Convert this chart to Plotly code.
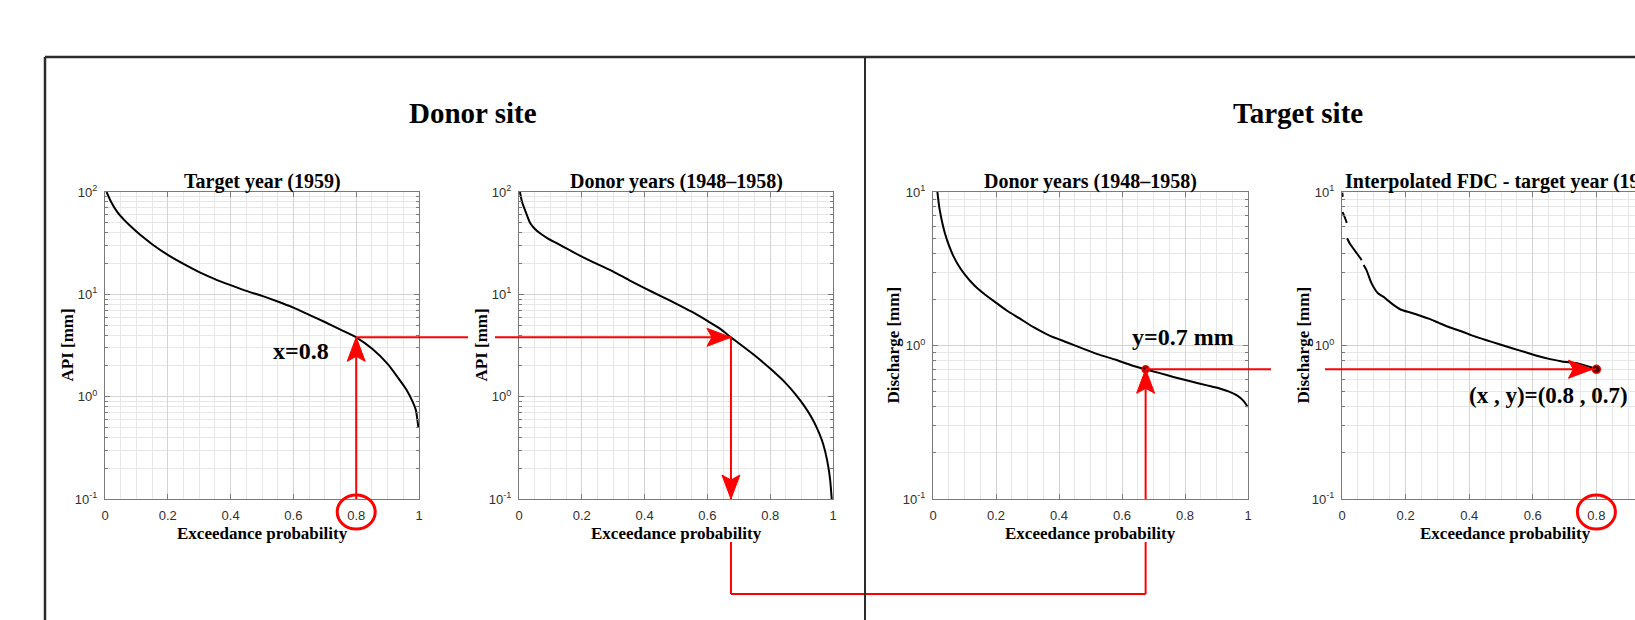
import math
import plotly.graph_objects as go

W, H = 1635, 620

# ---------------- data ----------------
target_api_prob = [0.005, 0.02, 0.04, 0.06, 0.08, 0.10, 0.125, 0.15, 0.2, 0.25, 0.3, 0.35,
                   0.4, 0.45, 0.5, 0.55, 0.6, 0.65, 0.7, 0.75, 0.8, 0.85, 0.9, 0.93,
                   0.96, 0.98, 0.99, 0.998]
target_api_mm = [100, 79.4, 63.1, 53.7, 46.8, 41.2, 35.5, 30.9, 24.3, 19.8, 16.5, 14.1,
                 12.3, 10.8, 9.66, 8.51, 7.41, 6.31, 5.37, 4.52, 3.8, 2.95, 2.09, 1.58,
                 1.17, 0.89, 0.74, 0.5]

donor_api_prob = [0.003, 0.01, 0.019, 0.035, 0.05, 0.067, 0.09, 0.12, 0.16, 0.2, 0.25, 0.3,
                  0.35, 0.4, 0.45, 0.5, 0.55, 0.6, 0.64, 0.675, 0.7, 0.75, 0.8, 0.85, 0.88,
                  0.91, 0.93, 0.95, 0.965, 0.975, 0.985, 0.991, 0.996]
donor_api_mm = [100, 79.4, 66.7, 50.1, 43.7, 39.5, 35.5, 31.6, 27.2, 23.4, 19.7, 16.7,
                13.8, 11.5, 9.66, 8.13, 6.76, 5.5, 4.62, 3.8, 3.33, 2.54, 1.88, 1.35, 1.06,
                0.80, 0.64, 0.485, 0.373, 0.292, 0.207, 0.153, 0.1]

donor_q_prob = [0.014, 0.018, 0.022, 0.03, 0.038, 0.05, 0.064, 0.08, 0.1, 0.13, 0.16, 0.2,
                0.234, 0.275, 0.318, 0.37, 0.424, 0.48, 0.53, 0.58, 0.625, 0.675, 0.72,
                0.763, 0.82, 0.87, 0.91, 0.94, 0.965, 0.985, 0.999]
donor_q_mm = [10, 8.51, 7.50, 6.24, 5.37, 4.52, 3.85, 3.35, 2.92, 2.48, 2.19, 1.90,
              1.69, 1.50, 1.32, 1.16, 1.05, 0.948, 0.869, 0.807, 0.75, 0.70, 0.661,
              0.624, 0.582, 0.55, 0.525, 0.501, 0.473, 0.437, 0.398]

interp_q_prob = [0.001, 0.002, None, 0.002, 0.008, 0.015, None, 0.016, 0.025, 0.035, 0.05, 0.062,
                 None, 0.068, 0.077, 0.085, 0.093, 0.113, 0.13, 0.145, 0.165, 0.186, 0.215,
                 0.244, 0.275, 0.306, 0.34, 0.379, 0.415, 0.452, 0.495, 0.535, 0.58, 0.619,
                 0.655, 0.692, 0.744, 0.78, 0.80]
interp_q_mm = [9.9, 9.3, None, 7.4, 6.9, 6.3, None, 5.0, 4.6, 4.3, 3.9, 3.6,
               None, 3.35, 3.1, 2.8, 2.54, 2.19, 2.08, 1.96, 1.82, 1.71, 1.64,
               1.57, 1.49, 1.40, 1.31, 1.23, 1.15, 1.086, 1.02, 0.96, 0.90, 0.85,
               0.815, 0.787, 0.762, 0.725, 0.70]

target_prob = 0.8      # exceedance probability of the target-year API value
target_api = 3.8       # API [mm] at that probability
donor_prob = 0.675     # same API value on the donor-years FDC
donor_q = 0.7          # discharge [mm] at donor_prob
axis_floor = 0.1       # bottom of the log axes

x_ticks = [0, 0.2, 0.4, 0.6, 0.8, 1]
x_ticktext = ["0", "0.2", "0.4", "0.6", "0.8", "1"]
api_ticks = [0.1, 1, 10, 100]
api_ticktext = ["10<sup>-1</sup>", "10<sup>0</sup>", "10<sup>1</sup>", "10<sup>2</sup>"]
q_ticks = [0.1, 1, 10]
q_ticktext = ["10<sup>-1</sup>", "10<sup>0</sup>", "10<sup>1</sup>"]

panel_titles = ["Target year (1959)", "Donor years (1948\u20131958)",
                "Donor years (1948\u20131958)", "Interpolated FDC - target year (1959)"]
y_titles = ["API [mm]", "API [mm]", "Discharge [mm]", "Discharge [mm]"]
x_title = "Exceedance probability"
site_titles = ["Donor site", "Target site"]

# ---------------- layout geometry (pixels) ----------------
def fx(px):
    return px / W

def fy(py):
    return 1 - py / H

panel_px = [(105, 419), (519, 833), (933, 1248), (1342, 1660)]
top_px, bot_px = 192, 499
ydom = [fy(bot_px), fy(top_px)]

def prob_px(i, p):
    a, b = panel_px[i]
    return a + p * (b - a)

axis_col = "#7a7a7a"
major_grid = "#d4d4d4"
minor_grid = "#e7e7e7"
red = "#ff0000"
serif = "Liberation Serif, Times New Roman, serif"
sans = "Liberation Sans, Arial, sans-serif"

def decade_minors(lo_exp, hi_exp):
    vals = []
    for e in range(lo_exp, hi_exp):
        for m in range(2, 10):
            vals.append(m * 10 ** e)
    return vals

fig = go.Figure()

curve = dict(color="black", width=2, shape="spline", smoothing=0.6)
fig.add_trace(go.Scatter(x=target_api_prob, y=target_api_mm, xaxis="x", yaxis="y",
                         mode="lines", line=curve))
fig.add_trace(go.Scatter(x=donor_api_prob, y=donor_api_mm, xaxis="x2", yaxis="y2",
                         mode="lines", line=curve))
fig.add_trace(go.Scatter(x=donor_q_prob, y=donor_q_mm, xaxis="x3", yaxis="y3",
                         mode="lines", line=curve))
fig.add_trace(go.Scatter(x=interp_q_prob, y=interp_q_mm, xaxis="x4", yaxis="y4",
                         mode="lines", connectgaps=False, line=curve))

layout = dict(width=W, height=H, margin=dict(l=0, r=0, t=0, b=0, pad=0, autoexpand=False),
              paper_bgcolor="white", plot_bgcolor="white", showlegend=False)

for i in range(4):
    n = "" if i == 0 else str(i + 1)
    a, b = panel_px[i]
    if i == 3:
        xdom = [fx(a), 1.0]
        xr = [0, (W - a) / (b - a)]
    else:
        xdom = [fx(a), fx(b)]
        xr = [0, 1]
    layout["xaxis" + n] = dict(
        domain=xdom, range=xr, anchor="y" + n, automargin=False, tickmode="array",
        tickvals=x_ticks, ticktext=x_ticktext, ticks="inside", ticklen=5, tickcolor=axis_col,
        showline=True, linecolor=axis_col, linewidth=1, mirror="ticks",
        showgrid=True, gridcolor=major_grid, gridwidth=1, zeroline=False,
        minor=dict(tickmode="linear", tick0=0, dtick=0.05, showgrid=True,
                   gridcolor=minor_grid, gridwidth=1),
        tickfont=dict(family=sans, size=13, color="#303030"), ticklabelstandoff=4,
        fixedrange=True)
    if i < 2:
        yr, tv, tt, mv = [-1, 2], api_ticks, api_ticktext, decade_minors(-1, 2)
    else:
        yr, tv, tt, mv = [-1, 1], q_ticks, q_ticktext, decade_minors(-1, 1)
    layout["yaxis" + n] = dict(
        domain=ydom, type="log", range=yr, anchor="x" + n, automargin=False, tickmode="array",
        tickvals=tv, ticktext=tt, ticks="inside", ticklen=5, tickcolor=axis_col,
        showline=True, linecolor=axis_col, linewidth=1,
        mirror=("ticks" if i < 3 else False),
        showgrid=True, gridcolor=major_grid, gridwidth=1, zeroline=False,
        minor=dict(tickmode="array", tickvals=mv, ticks="inside", ticklen=3,
                   tickcolor=axis_col, showgrid=True, gridcolor=minor_grid, gridwidth=1),
        tickfont=dict(family=sans, size=13, color="#303030"), ticklabelstandoff=4,
        fixedrange=True)

fig.update_layout(**layout)

def label(text, px, py, size, angle=0, xanchor="center"):
    return dict(text=text, x=fx(px), y=fy(py), xref="paper", yref="paper",
                xanchor=xanchor, yanchor="middle", textangle=angle, showarrow=False,
                font=dict(family=serif, size=size, color="black", weight="bold"))

ann = [label(site_titles[0], 473, 113, 29), label(site_titles[1], 1298, 113, 29)]
ylabel_px = [67, 481, 893, 1303]
title_cx = [262, 676, 1090.5, 1505]
for i in range(4):
    ann.append(label(panel_titles[i], title_cx[i], 182, 20))
    ann.append(label(y_titles[i], ylabel_px[i], (top_px + bot_px) / 2, 17, angle=-90))
    ann.append(label(x_title, title_cx[i], 533, 17))
ann.append(label("x=0.8", 301, 351, 24))
ann.append(label("y=0.7 mm", 1183, 337, 24))
ann.append(label("(x , y)=(0.8 , 0.7)", 1467, 395, 23, xanchor="left"))
fig.update_layout(annotations=ann)

# ---------------- red construction lines ----------------
red_line = dict(color=red, width=2)
shapes = []

def seg(xref, yref, x0, x1, y0, y1, line=red_line):
    shapes.append(dict(type="line", xref=xref, yref=yref, x0=x0, x1=x1, y0=y0, y1=y1, line=line))

def head(xref, yref, x, y, direction, back=0):
    L, hw, notch = 24, 9, 5
    if direction == "up":
        p = f"M0,{-back} L{hw},{-back-L} L0,{-back-L+notch} L{-hw},{-back-L} Z"
    elif direction == "down":
        p = f"M0,{back} L{hw},{back+L} L0,{back+L-notch} L{-hw},{back+L} Z"
    else:  # right
        p = f"M{-back},0 L{-back-L},{hw} L{-back-L+notch},0 L{-back-L},{-hw} Z"
    shapes.append(dict(type="path", xref=xref, yref=yref, xsizemode="pixel", ysizemode="pixel",
                       xanchor=x, yanchor=y, path=p, fillcolor=red, line=dict(color=red, width=1)))

# panel 1: vertical up to the target-year curve
seg("x", "y", target_prob, target_prob, axis_floor, target_api)
head("x", "y", target_prob, target_api, "up")
# panel 1 -> panel 2 (gap around the API label)
seg("paper", "y", fx(prob_px(0, target_prob)), fx(468), target_api, target_api)
seg("paper", "y2", fx(495), fx(prob_px(1, donor_prob)), target_api, target_api)
head("x2", "y2", donor_prob, target_api, "right")
# panel 2: down to the axis
seg("x2", "y2", donor_prob, donor_prob, target_api, axis_floor)
head("x2", "y2", donor_prob, axis_floor, "down")
# bracket under panels 2 and 3
seg("x2", "paper", donor_prob, donor_prob, fy(542), fy(594))
seg("x3", "paper", donor_prob, donor_prob, fy(542), fy(594))
seg("paper", "paper", fx(prob_px(1, donor_prob)), fx(prob_px(2, donor_prob)), fy(594), fy(594))
# panel 3: up to the donor discharge curve
seg("x3", "y3", donor_prob, donor_prob, axis_floor, donor_q)
head("x3", "y3", donor_prob, donor_q, "up")
# panel 3 -> panel 4
seg("paper", "y3", fx(prob_px(2, donor_prob)), fx(1271), donor_q, donor_q)
seg("paper", "y4", fx(1325), fx(prob_px(3, target_prob)), donor_q, donor_q)
head("x4", "y4", target_prob, donor_q, "right", back=4)
# red ellipses around the 0.8 tick labels
for xr_ in ("x", "x4"):
    shapes.append(dict(type="circle", xref=xr_, yref="paper", xsizemode="pixel", xanchor=target_prob,
                       x0=-19, x1=19, y0=fy(529), y1=fy(495), line=dict(color=red, width=3)))

# outer frame and divider
frame = dict(color="#2b2b2b", width=2.5)
seg("paper", "paper", fx(45), 1.0, fy(57), fy(57), frame)
seg("paper", "paper", fx(45), fx(45), fy(57), 0, frame)
seg("paper", "paper", fx(865), fx(865), fy(57), 0, dict(color="#2b2b2b", width=2))
fig.update_layout(shapes=shapes)

# highlighted points (drawn above the construction lines)
fig.add_trace(go.Scatter(x=[donor_prob], y=[donor_q], xaxis="x3", yaxis="y3", mode="markers",
                         cliponaxis=False,
                         marker=dict(size=7, color="#3a0000", line=dict(color=red, width=1.5))))
fig.add_trace(go.Scatter(x=[target_prob], y=[donor_q], xaxis="x4", yaxis="y4", mode="markers",
                         cliponaxis=False,
                         marker=dict(size=8, color="#3a0000", line=dict(color=red, width=1.5))))

fig.write_html("out.html", post_script="document.body.style.margin='0px';")
